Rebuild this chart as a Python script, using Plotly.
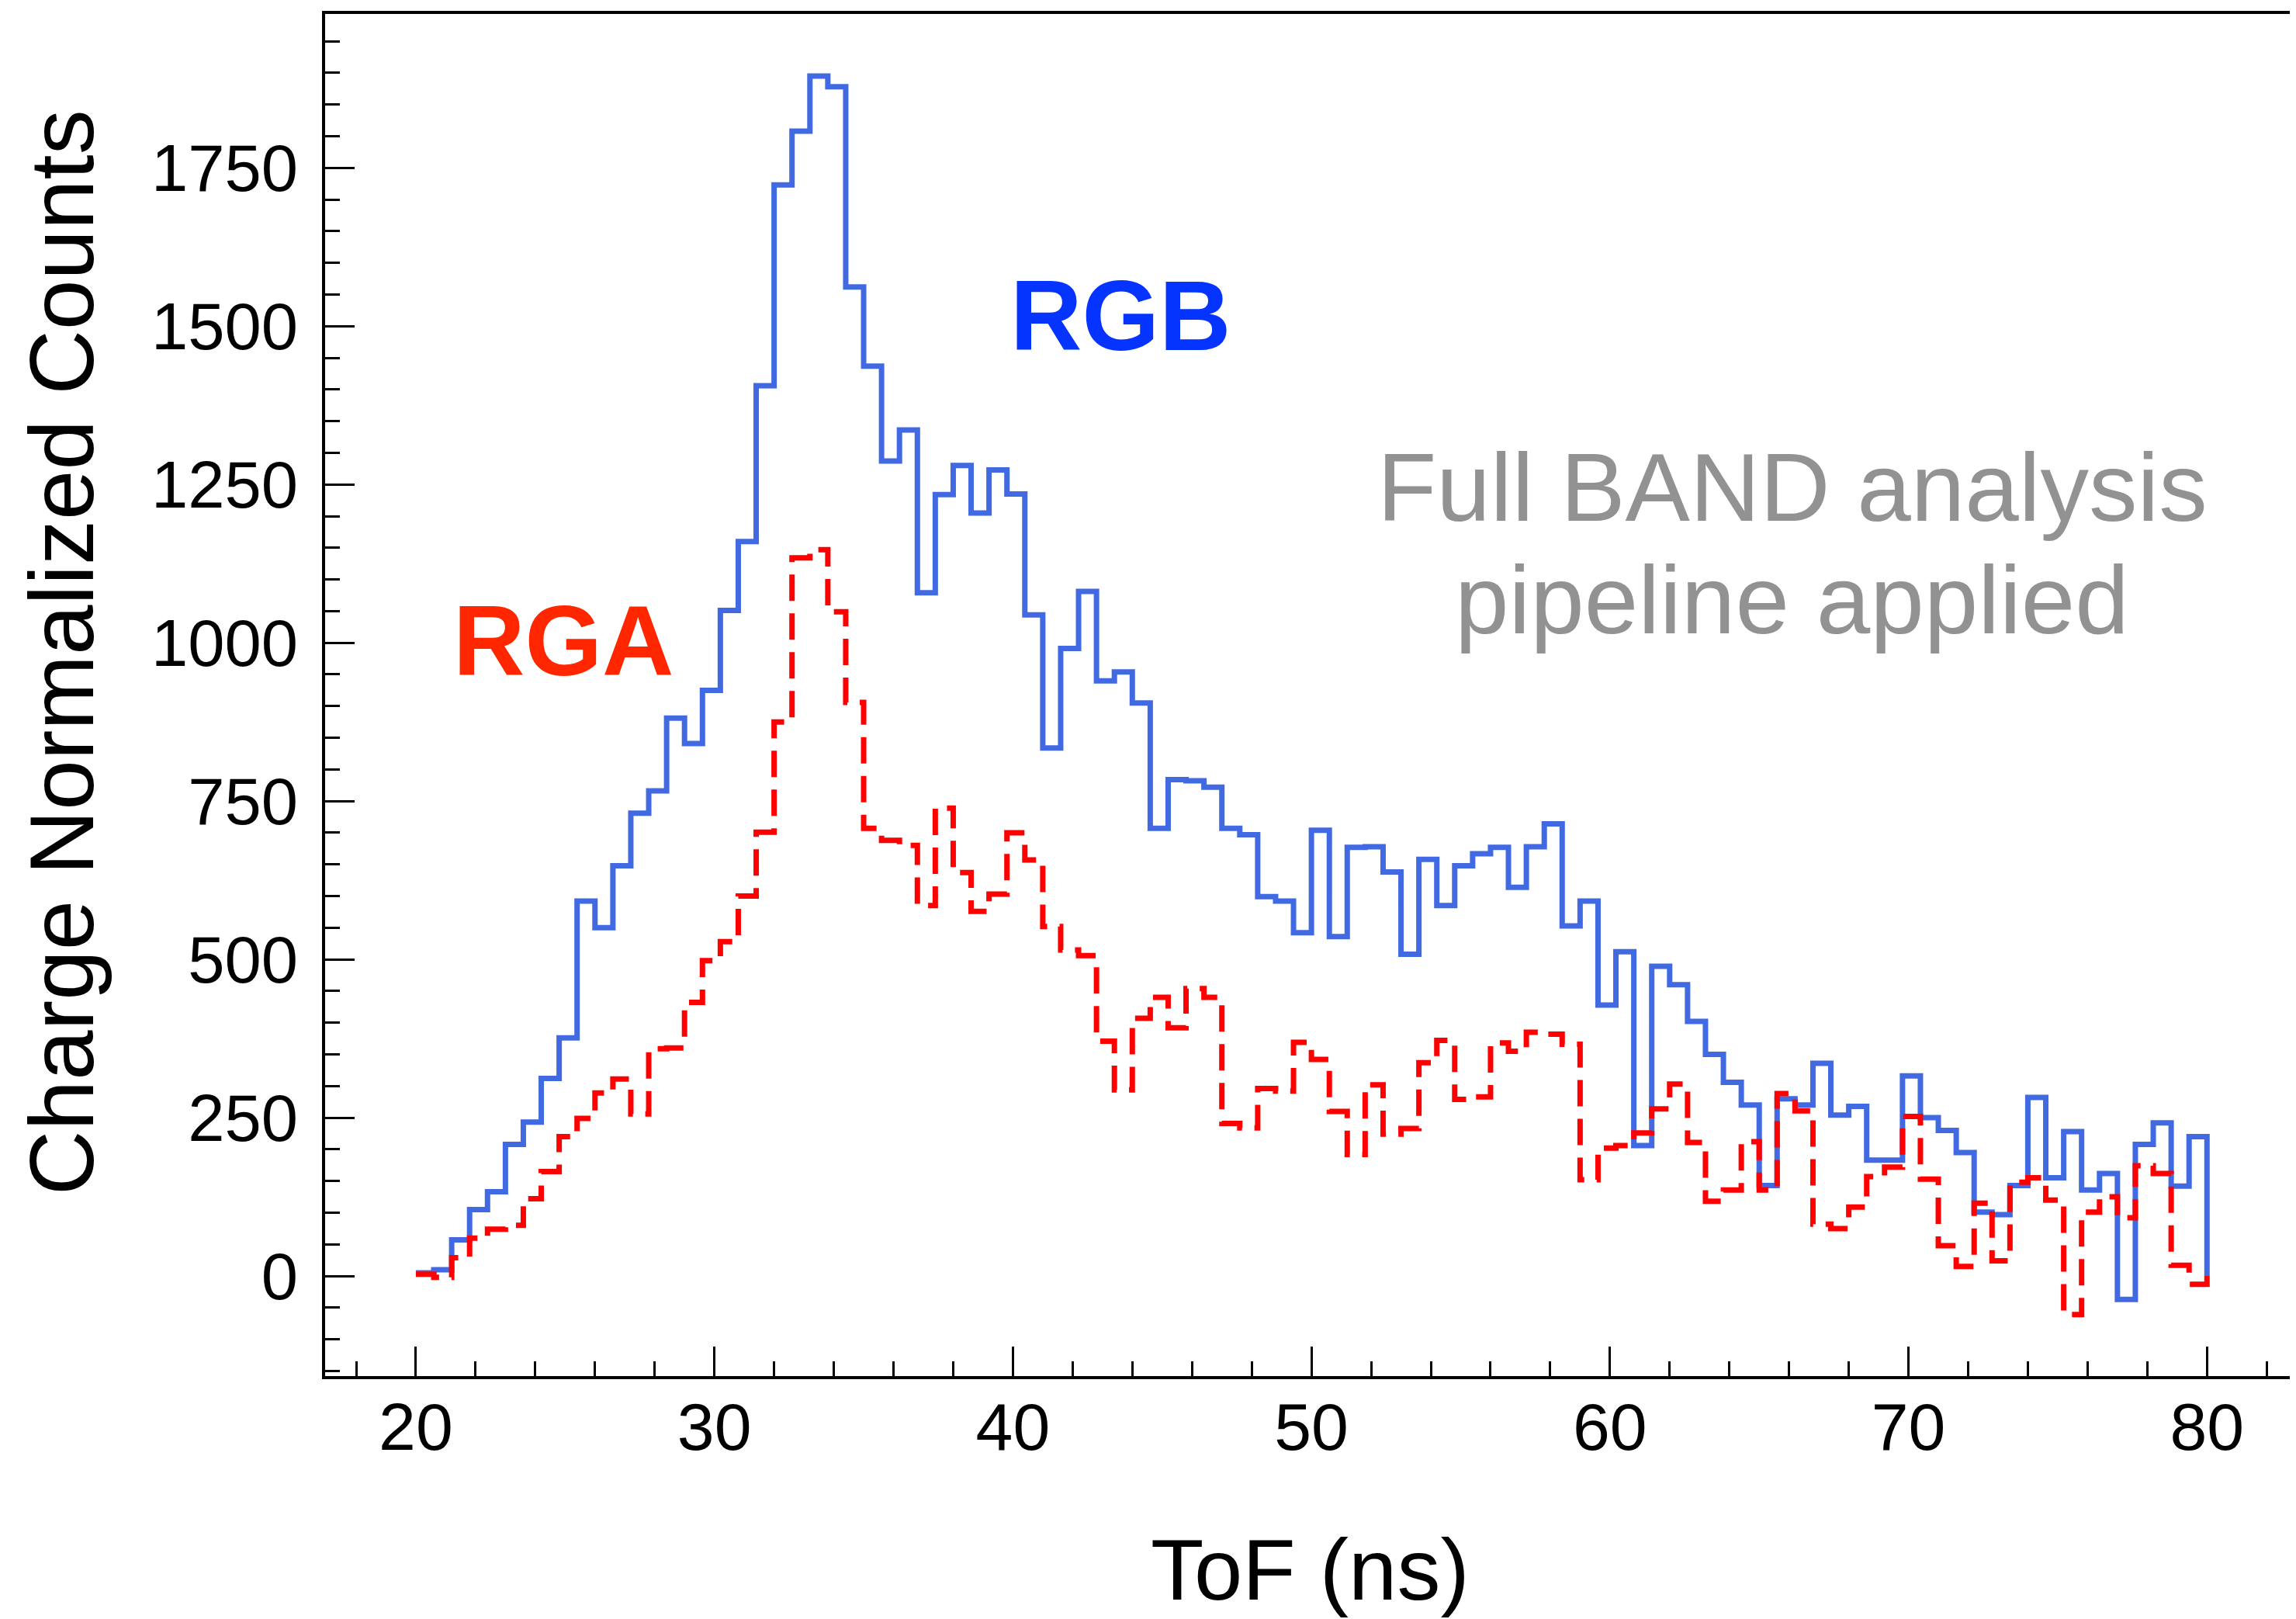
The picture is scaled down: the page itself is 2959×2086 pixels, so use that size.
import numpy as np
import plotly.graph_objects as go

# ToF histogram, 100 bins of 0.6 ns from 20 to 80 ns
bin_edges = np.round(np.arange(20, 80.001, 0.6), 1)

rgb_counts = [5, 10, 57, 105, 133, 208, 243, 312, 376, 592,
              550, 648, 731, 766, 881, 841, 925, 1051, 1160, 1406,
              1723, 1808, 1895, 1878, 1562, 1437, 1287, 1336, 1079, 1234,
              1280, 1205, 1273, 1235, 1044, 834, 991, 1081, 940, 954,
              905, 707, 784, 782, 772, 707, 697, 599, 592, 542,
              704, 536, 677, 678, 638, 508, 658, 585, 648, 667,
              677, 614, 678, 714, 553, 592, 428, 512, 206, 489,
              460, 402, 350, 306, 270, 143, 280, 270, 336, 254,
              268, 183, 183, 316, 250, 230, 195, 101, 97, 143,
              282, 155, 228, 136, 162, -37, 208, 242, 142, 220]

rga_counts = [3, -2, 29, 60, 74, 80, 122, 165, 220, 249,
              289, 311, 256, 359, 360, 432, 498, 528, 600, 701,
              875, 1134, 1147, 1049, 906, 707, 688, 680, 585, 739,
              637, 576, 603, 700, 657, 552, 515, 506, 371, 294,
              407, 440, 392, 454, 440, 241, 234, 296, 292, 369,
              342, 260, 192, 302, 224, 233, 337, 372, 279, 283,
              368, 355, 385, 382, 366, 152, 202, 206, 226, 264,
              303, 211, 118, 136, 212, 136, 288, 261, 82, 75,
              109, 157, 172, 252, 153, 48, 15, 115, 24, 148,
              155, 120, -61, 101, 125, 92, 174, 162, 17, -13]


def step_xy(counts):
    xs = list(bin_edges) + [bin_edges[-1]]
    ys = list(counts) + [counts[-1], 0]
    return xs, ys


fig = go.Figure()

x, y = step_xy(rgb_counts)
fig.add_trace(go.Scatter(x=x, y=y, mode="lines", line_shape="hv",
                         line=dict(color="#4169E1", width=7), name="RGB"))

x, y = step_xy(rga_counts)
fig.add_trace(go.Scatter(x=x, y=y, mode="lines", line_shape="hv",
                         line=dict(color="#FF0000", width=7, dash="34px,16px"),
                         name="RGA"))

font_family = "Liberation Sans, Arial, Helvetica, sans-serif"

fig.update_xaxes(range=[16.96, 82.93], showgrid=False, zeroline=False,
                 showline=True, linecolor="black", linewidth=4, mirror=True,
                 ticks="inside", ticklen=38, tickwidth=3, tickcolor="black",
                 dtick=10, tick0=0,
                 minor=dict(dtick=2, ticks="inside", ticklen=19, tickwidth=3,
                            tickcolor="black"),
                 tickfont=dict(size=86, color="black", family=font_family),
                 ticklabelstandoff=-12)
fig.update_yaxes(range=[-158, 1993], showgrid=False, zeroline=False,
                 showline=True, linecolor="black", linewidth=4, mirror=True,
                 ticks="inside", ticklen=38, tickwidth=3, tickcolor="black",
                 dtick=250, tick0=0,
                 minor=dict(dtick=50, ticks="inside", ticklen=19, tickwidth=3,
                            tickcolor="black"),
                 tickfont=dict(size=85, color="black", family=font_family),
                 ticklabelstandoff=14)

annotations = [
    dict(text="ToF (ns)", x=0.5, y=-0.142, xref="paper", yref="paper",
         showarrow=False, font=dict(size=112, color="black"),
         xanchor="center", yanchor="middle"),
    dict(text="Charge Normalized Counts", x=-0.1335, y=0.531,
         xref="paper", yref="paper", textangle=-90, showarrow=False,
         font=dict(size=116, color="black"), xanchor="center", yanchor="middle"),
    dict(text="<b>RGB</b>", x=43.6, y=1517, showarrow=False,
         font=dict(size=128, color="#0533FF"), xanchor="center", yanchor="middle"),
    dict(text="<b>RGA</b>", x=24.95, y=1003, showarrow=False,
         font=dict(size=128, color="#FF2600"), xanchor="center", yanchor="middle"),
    dict(text="Full BAND analysis", x=66.1, y=1246, showarrow=False,
         font=dict(size=125, color="#929292"), xanchor="center", yanchor="middle"),
    dict(text="pipeline applied", x=66.1, y=1068, showarrow=False,
         font=dict(size=125, color="#929292"), xanchor="center", yanchor="middle"),
]

fig.update_layout(width=2959, height=2086,
                  margin=dict(l=411, r=6, t=9, b=321),
                  plot_bgcolor="white", paper_bgcolor="white",
                  showlegend=False,
                  font=dict(family=font_family, color="black"),
                  annotations=annotations)

fig.write_html("out.html")
